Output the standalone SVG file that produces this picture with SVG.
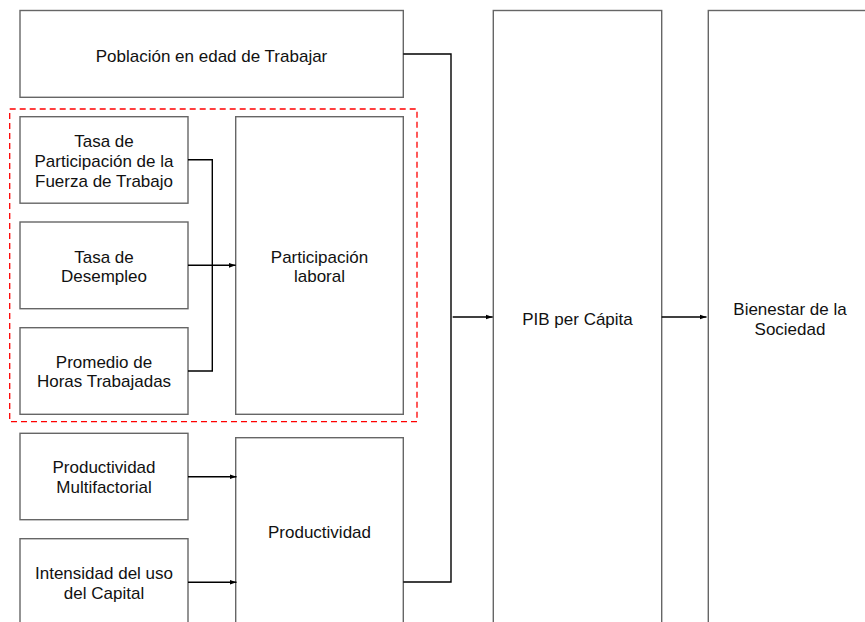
<svg xmlns="http://www.w3.org/2000/svg" width="865" height="622" viewBox="0 0 865 622">
<defs>
<style>
.box{fill:#fff;stroke:#666;stroke-width:1.4}
.t{font-family:"Liberation Sans",Arial,Helvetica,sans-serif;font-size:17px;fill:#111;text-anchor:middle}
.c{fill:none;stroke:#000;stroke-width:1.4}
</style>
<marker id="ah" viewBox="0 0 10 10" refX="10" refY="5" markerWidth="7" markerHeight="7" markerUnits="userSpaceOnUse" orient="auto">
<path d="M0,1.5 L10,5 L0,8.5 Z" fill="#000"/>
</marker>
</defs>
<rect width="865" height="622" fill="#fff"/>
<rect id="group-frame" x="9.7" y="109" width="407.3" height="312.7" fill="none" stroke="#f00" stroke-width="1.3" stroke-dasharray="6 4"/>
<g id="poblacion"><rect class="box" x="20" y="10.5" width="383.3" height="86.8"/><text class="t" x="211.5" y="61.5">Población en edad de Trabajar</text></g>
<g id="tasa-participacion"><rect class="box" x="20" y="116.7" width="168" height="86.5"/><text class="t" x="104" y="146.5">Tasa de</text><text class="t" x="104" y="166.5">Participación de la</text><text class="t" x="104" y="186.5">Fuerza de Trabajo</text></g>
<g id="tasa-desempleo"><rect class="box" x="20" y="222" width="168" height="86.7"/><text class="t" x="104" y="262.5">Tasa de</text><text class="t" x="104" y="282.3">Desempleo</text></g>
<g id="promedio-horas"><rect class="box" x="20" y="327.7" width="168" height="86.6"/><text class="t" x="104" y="367.5">Promedio de</text><text class="t" x="104" y="387">Horas Trabajadas</text></g>
<g id="participacion-laboral"><rect class="box" x="235.7" y="116.7" width="167.6" height="297.6"/><text class="t" x="319.5" y="262.5">Participación</text><text class="t" x="319.5" y="282.3">laboral</text></g>
<g id="productividad-multifactorial"><rect class="box" x="20" y="433.3" width="168" height="86.4"/><text class="t" x="104" y="472.7">Productividad</text><text class="t" x="104" y="492.7">Multifactorial</text></g>
<g id="intensidad-capital"><rect class="box" x="20" y="538.7" width="168" height="100"/><text class="t" x="104" y="578.7">Intensidad del uso</text><text class="t" x="104" y="598.7">del Capital</text></g>
<g id="productividad"><rect class="box" x="235.7" y="437.7" width="167.6" height="200"/><text class="t" x="319.5" y="538.3">Productividad</text></g>
<g id="pib"><rect class="box" x="493.3" y="10.5" width="168.4" height="630"/><text class="t" x="577.5" y="325">PIB per Cápita</text></g>
<g id="bienestar"><rect class="box" x="708.3" y="10.5" width="164" height="630"/><text class="t" x="790" y="315">Bienestar de la</text><text class="t" x="790" y="334.5">Sociedad</text></g>
<g id="connectors">
<polyline class="c" points="188,159.7 212.3,159.7 212.3,371 188,371"/>
<line class="c" x1="188" y1="265.3" x2="235.7" y2="265.3" marker-end="url(#ah)"/>
<line class="c" x1="188" y1="476.7" x2="236.5" y2="476.7" marker-end="url(#ah)"/>
<line class="c" x1="188" y1="582.3" x2="236.5" y2="582.3" marker-end="url(#ah)"/>
<polyline class="c" points="403.3,54 451,54 451,582 403.3,582"/>
<line class="c" x1="452.7" y1="317" x2="492.7" y2="317" marker-end="url(#ah)"/>
<line class="c" x1="661.7" y1="317" x2="706.5" y2="317" marker-end="url(#ah)"/>
</g>
</svg>
